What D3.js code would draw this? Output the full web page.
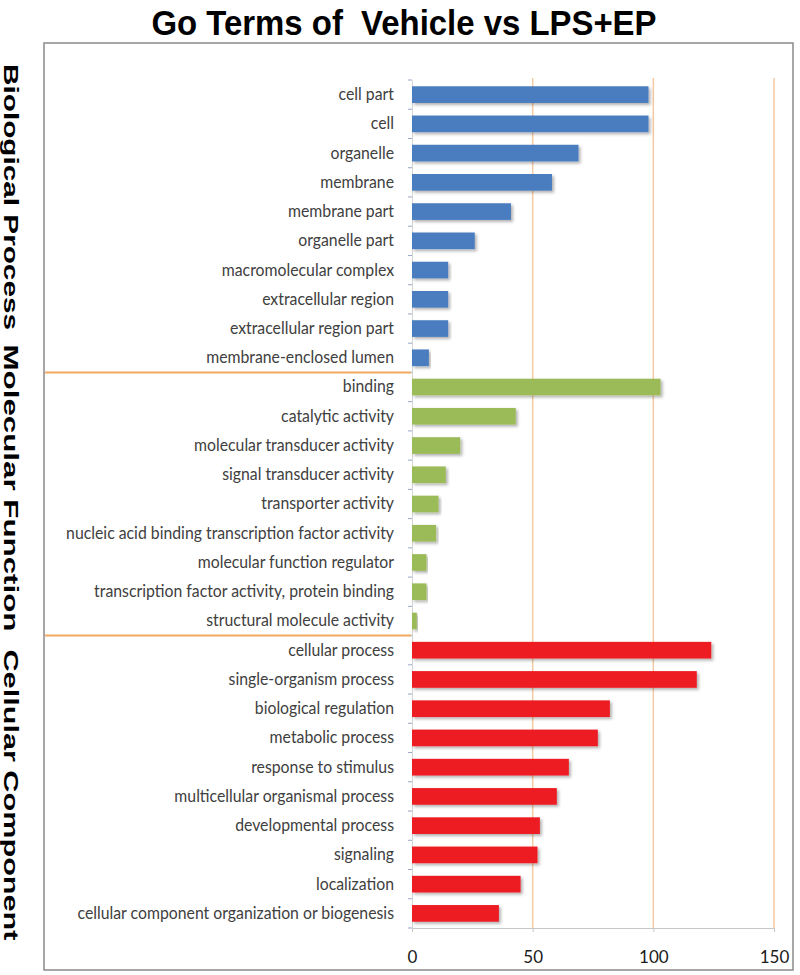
<!DOCTYPE html>
<html>
<head>
<meta charset="utf-8">
<script src="https://cdn.jsdelivr.net/npm/d3@7"></script>
<style>
  html, body { margin: 0; padding: 0; background: #fff; }
  svg { display: block; }
</style>
</head>
<body>
<script>
// ---- data ----
const groupNames = ["Biological Process", "Molecular Function", "Cellular Component"];
const groupColors = ["#4a7dbf", "#9bbb59", "#ec1c24"];

const bpTerms = ["cell part", "cell", "organelle", "membrane", "membrane part", "organelle part",
  "macromolecular complex", "extracellular region", "extracellular region part", "membrane-enclosed lumen"];
const bpValues = [98, 98, 69, 58, 41, 26, 15, 15, 15, 7];

const mfTerms = ["binding", "catalytic activity", "molecular transducer activity", "signal transducer activity",
  "transporter activity", "nucleic acid binding transcription factor activity", "molecular function regulator",
  "transcription factor activity, protein binding", "structural molecule activity"];
const mfValues = [103, 43, 20, 14, 11, 10, 6, 6, 2];

const ccTerms = ["cellular process", "single-organism process", "biological regulation", "metabolic process",
  "response to stimulus", "multicellular organismal process", "developmental process", "signaling",
  "localization", "cellular component organization or biogenesis"];
const ccValues = [124, 118, 82, 77, 65, 60, 53, 52, 45, 36];

const xTicks = [0, 50, 100, 150];
const titleText = "Go Terms of  Vehicle vs LPS+EP";

// ---- build rows ----
const termGroups = [bpTerms, mfTerms, ccTerms];
const valueGroups = [bpValues, mfValues, ccValues];
const rows = [];
termGroups.forEach((terms, g) => terms.forEach((t, i) => rows.push({term: t, value: valueGroups[g][i], group: g})));

const W = 800, H = 975;
const svg = d3.select("body").append("svg").attr("width", W).attr("height", H);

const defs = svg.append("defs");
const f = defs.append("filter").attr("id", "shadow").attr("x", "-5%").attr("y", "-30%").attr("width", "115%").attr("height", "190%");
f.append("feDropShadow").attr("dx", 2).attr("dy", 2).attr("stdDeviation", 1.4)
  .attr("flood-color", "#000").attr("flood-opacity", 0.3);

// title
svg.append("text")
  .attr("x", 404).attr("y", 35)
  .attr("text-anchor", "middle")
  .style("white-space", "pre")
  .attr("font-family", "Liberation Sans, Arial, sans-serif")
  .attr("font-weight", "bold")
  .attr("font-size", 35)
  .attr("textLength", 505).attr("lengthAdjust", "spacingAndGlyphs")
  .attr("fill", "#000")
  .text(titleText);

// frame
svg.append("rect").attr("x", 44).attr("y", 43).attr("width", 749).attr("height", 927)
  .attr("fill", "none").attr("stroke", "#8a8a8a").attr("stroke-width", 1.5);

// scales
const x = d3.scaleLinear().domain([0, 150]).range([412, 774]);
const y = d3.scaleBand().domain(rows.map(d => d.term)).range([80, 928]).paddingInner(0.43).paddingOuter(0.215);
const step = y.step();

// gridlines
svg.append("g").selectAll("line").data(xTicks.filter(t => t > 0)).join("line")
  .attr("x1", d => x(d)).attr("x2", d => x(d))
  .attr("y1", 78).attr("y2", 928)
  .attr("stroke", "#f5c9a2").attr("stroke-width", 1.5);

// x axis
const xAxis = svg.append("g").attr("transform", "translate(0,928)")
  .call(d3.axisBottom(x).tickValues(xTicks).tickSize(4).tickPadding(19).tickSizeOuter(0));
xAxis.select(".domain").attr("stroke", "#c6c6c6");
xAxis.selectAll(".tick line").attr("stroke", "#c6c6c6");
xAxis.selectAll("text").attr("font-family", "Lato, sans-serif").attr("font-size", 17).attr("fill", "#1a1a1a");

// y axis (labels)
const sx = 0.93;
const yAxis = svg.append("g").attr("transform", "translate(412,0)")
  .call(d3.axisLeft(y).tickSize(0).tickPadding(18));
yAxis.select(".domain").attr("stroke", "#d4d4d4");
yAxis.selectAll("text")
  .attr("font-family", "Lato, sans-serif").attr("font-size", 17).attr("fill", "#404040")
  .attr("x", -18 / sx)
  .attr("transform", `scale(${sx},1)`);

// boundary ticks
const bounds = d3.range(rows.length + 1).map(i => 80 + i * step);
svg.append("g").selectAll("line").data(bounds).join("line")
  .attr("x1", 408).attr("x2", 412)
  .attr("y1", d => d).attr("y2", d => d)
  .attr("stroke", "#9aa6c4").attr("stroke-width", 1);

// group separators
let cum = 0;
const sepYs = [];
termGroups.slice(0, -1).forEach(t => { cum += t.length; sepYs.push(80 + cum * step); });
svg.append("g").selectAll("line").data(sepYs).join("line")
  .attr("x1", 45).attr("x2", 411)
  .attr("y1", d => d).attr("y2", d => d)
  .attr("stroke", "#f2a862").attr("stroke-width", 2);

// bars
svg.append("g").selectAll("rect").data(rows).join("rect")
  .attr("x", x(0))
  .attr("y", d => y(d.term))
  .attr("width", d => x(d.value) - x(0))
  .attr("height", y.bandwidth())
  .attr("fill", d => groupColors[d.group])
  .attr("filter", "url(#shadow)");

// side group labels
const sideCenters = [197, 488, 795];
const sideLengths = [266, 287, 291];
groupNames.forEach((name, i) => {
  svg.append("text")
    .attr("transform", `translate(4,${sideCenters[i]}) rotate(90)`)
    .attr("text-anchor", "middle")
    .attr("font-family", "Liberation Sans, Arial, sans-serif")
    .attr("font-weight", "bold")
    .attr("font-size", 21)
    .attr("textLength", sideLengths[i]).attr("lengthAdjust", "spacingAndGlyphs")
    .attr("fill", "#000")
    .text(name);
});
</script>
</body>
</html>
